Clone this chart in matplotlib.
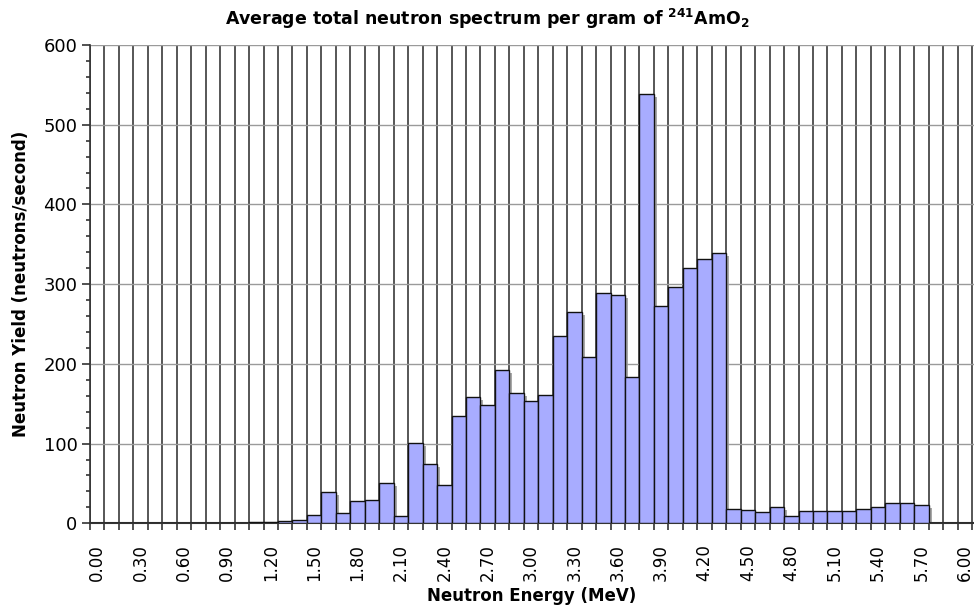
import matplotlib
matplotlib.use("Agg")
import matplotlib.pyplot as plt
import matplotlib.transforms as mtransforms
from matplotlib.ticker import MultipleLocator, FixedLocator

# bin start energies (MeV), one bin per 0.1 MeV
ENERGY = [0.0, 0.1, 0.2, 0.3, 0.4, 0.5, 0.6, 0.7, 0.8, 0.9,
          1.0, 1.1, 1.2, 1.3, 1.4, 1.5, 1.6, 1.7, 1.8, 1.9,
          2.0, 2.1, 2.2, 2.3, 2.4, 2.5, 2.6, 2.7, 2.8, 2.9,
          3.0, 3.1, 3.2, 3.3, 3.4, 3.5, 3.6, 3.7, 3.8, 3.9,
          4.0, 4.1, 4.2, 4.3, 4.4, 4.5, 4.6, 4.7, 4.8, 4.9,
          5.0, 5.1, 5.2, 5.3, 5.4, 5.5, 5.6, 5.7, 5.8, 5.9, 6.0]

# neutron yield per bin (neutrons/second)
YIELD = [0, 0, 0, 0, 0, 0, 0, 0, 0, 0,
         0, 1.5, 2, 3.5, 4, 11, 39, 12.5, 28, 29,
         51, 9, 101, 74, 48, 135, 158, 148, 192, 164,
         154, 161, 235, 265, 209, 289, 287, 183, 539, 272,
         297, 320, 331, 339, 18, 17, 14, 21, 9, 15,
         15, 15, 15, 18, 21, 25, 26, 23, 0, 0, 0]

LABEL_ENERGY = [0.0, 0.3, 0.6, 0.9, 1.2, 1.5, 1.8, 2.1, 2.4, 2.7, 3.0,
                3.3, 3.6, 3.9, 4.2, 4.5, 4.8, 5.1, 5.4, 5.7, 6.0]

BIN = 0.1

fig = plt.figure(figsize=(9.74, 6.11), dpi=100)
ax = fig.add_axes([90 / 974, 0.1435, 884 / 974, 0.7829])

# drop shadow behind the bars
shadow = ax.transData + mtransforms.ScaledTranslation(3 / 100, -3 / 100, fig.dpi_scale_trans)
ax.bar(ENERGY, YIELD, width=BIN, align="edge", color="#999999", alpha=0.85,
       edgecolor="none", transform=shadow, zorder=2)
ax.bar(ENERGY, YIELD, width=BIN, align="edge", color="#a8acff",
       edgecolor="#111111", linewidth=1.0, zorder=3)

ax.set_xlim(0, 884 / 14.46 * BIN)
ax.set_ylim(0, 600)

# x: tick marks and gridlines at bin edges, labels at bin centres
ax.xaxis.set_minor_locator(FixedLocator(ENERGY + [6.1]))
ax.xaxis.set_major_locator(FixedLocator([e + BIN / 2 for e in LABEL_ENERGY]))
ax.set_xticklabels([f"{e:.2f}" for e in LABEL_ENERGY], rotation=90, fontsize=12)
ax.tick_params(axis="x", which="major", length=0, pad=15)
ax.tick_params(axis="x", which="minor", length=5, width=1.2, color="#333333", direction="out")

ax.yaxis.set_major_locator(MultipleLocator(100))
ax.yaxis.set_minor_locator(MultipleLocator(20))
ax.tick_params(axis="y", which="major", length=6, width=1.2, color="#333333", labelsize=13, pad=3)
ax.tick_params(axis="y", which="minor", length=3, width=1.2, color="#333333")

ax.grid(True, axis="x", which="minor", color="#3a3a3a", linewidth=1.2, zorder=1)
ax.grid(True, axis="y", which="major", color="#9a9a9a", linewidth=1.0, zorder=1)
ax.set_axisbelow(True)

for side in ("top", "right"):
    ax.spines[side].set_visible(False)
ax.spines["left"].set_color("#333333")
ax.spines["left"].set_linewidth(1.2)
ax.spines["bottom"].set_color("#333333")
ax.spines["bottom"].set_linewidth(1.5)

ax.set_xlabel("Neutron Energy (MeV)", fontsize=12, fontweight="bold", labelpad=4)
ax.set_ylabel("Neutron Yield (neutrons/second)", fontsize=12, fontweight="bold", labelpad=10)
fig.text(0.5, 0.969, r"Average total neutron spectrum per gram of $\mathbf{^{241}AmO_2}$",
         ha="center", va="center", fontsize=12.5, fontweight="bold")

fig.savefig("out.png", dpi=100)
